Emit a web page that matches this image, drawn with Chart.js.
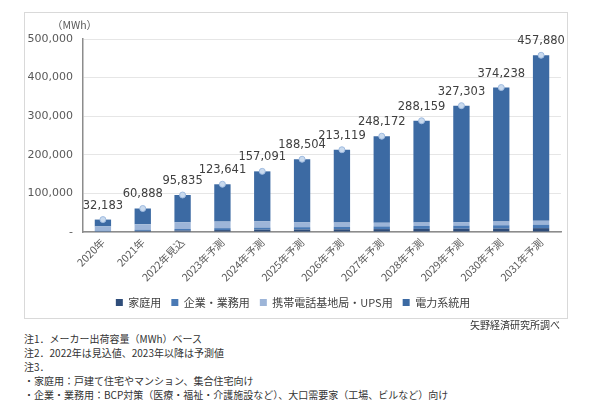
<!DOCTYPE html>
<html>
<head>
<meta charset="utf-8">
<script src="https://cdn.jsdelivr.net/npm/chart.js@4"></script>
<style>
  body { margin: 0; background: #fff; font-family: "Noto Sans CJK JP", "Noto Sans", sans-serif; }
  #frame { position: absolute; left: 24px; top: 12px; width: 542px; height: 305px; border: 1px solid #d9d9d9; }
  #unit { position: absolute; left: 52px; top: 17px; font-size: 10.5px; color: #595959; }
  .note { position: absolute; left: 24px; font-size: 10px; color: #333; white-space: nowrap; }
  #src { position: absolute; right: 40px; top: 317px; font-size: 10px; color: #333; }
</style>
</head>
<body>
<div id="frame"><canvas id="chart" width="542" height="305"></canvas></div>
<div id="unit">（MWh）</div>
<div id="src">矢野経済研究所調べ</div>
<div class="note" style="top:331px">注1．メーカー出荷容量（MWh）ベース</div>
<div class="note" style="top:345px">注2．2022年は見込値、2023年以降は予測値</div>
<div class="note" style="top:359px">注3．</div>
<div class="note" style="top:373px">・家庭用：戸建て住宅やマンション、集合住宅向け</div>
<div class="note" style="top:387px">・企業・業務用：BCP対策（医療・福祉・介護施設など）、大口需要家（工場、ビルなど）向け</div>
<script>
// 年（カテゴリ）
const years = ['2020年', '2021年', '2022年見込', '2023年予測', '2024年予測', '2025年予測',
  '2026年予測', '2027年予測', '2028年予測', '2029年予測', '2030年予測', '2031年予測'];

// 用途別（MWh）※画像からの読み取り値
const katei = [1500, 3000, 4000, 5000, 6000, 6500, 7000, 7500, 8000, 8500, 9000, 10000];
const kigyo = [2000, 3000, 4000, 5000, 5500, 6000, 6500, 7000, 7500, 8000, 8500, 9000];
const keitai = [11000, 14000, 17000, 17000, 16000, 13000, 11000, 9500, 9000, 9000, 9500, 10000];
const keito = [17683, 40888, 70835, 96641, 129591, 163004, 188619, 224172, 263659, 301803, 347238, 428880];

// 合計
const totals = [32183, 60888, 95835, 123641, 157091, 188504, 213119, 248172, 288159, 327303, 374238, 457880];

const yTicks = [0, 100000, 200000, 300000, 400000, 500000];

// 合計ラベルを棒の上に描く
const totalLabels = {
  id: 'totalLabels',
  afterDatasetsDraw(chart) {
    const ctx = chart.ctx;
    const meta = chart.getDatasetMeta(4);
    ctx.save();
    ctx.font = '11.5px "DejaVu Sans", sans-serif';
    ctx.fillStyle = '#404040';
    ctx.textAlign = 'center';
    ctx.textBaseline = 'middle';
    meta.data.forEach((pt, i) => {
      ctx.fillText(totals[i].toLocaleString('en-US'), pt.x, pt.y - 14);
    });
    ctx.restore();
  }
};

const ctx = document.getElementById('chart').getContext('2d');
new Chart(ctx, {
  type: 'bar',
  data: {
    labels: years,
    datasets: [
      { label: '家庭用', data: katei, backgroundColor: '#2f4d7a', stack: 's', order: 2 },
      { label: '企業・業務用', data: kigyo, backgroundColor: '#4a7ab5', stack: 's', order: 2 },
      { label: '携帯電話基地局・UPS用', data: keitai, backgroundColor: '#9db5d8', stack: 's', order: 2 },
      { label: '電力系統用', data: keito, backgroundColor: '#3c6aa3', stack: 's', order: 2 },
      { type: 'line', label: '合計', data: totals, showLine: false, pointRadius: 3,
        pointBackgroundColor: '#c9daee', pointBorderColor: '#9fbbe0', pointBorderWidth: 1, order: 1 }
    ]
  },
  options: {
    responsive: false,
    animation: false,
    layout: { padding: { top: 26, right: 6, bottom: 0, left: 0 } },
    datasets: { bar: { barPercentage: 0.41, categoryPercentage: 1 } },
    plugins: {
      tooltip: { enabled: false },
      legend: {
        position: 'bottom',
        labels: {
          filter: item => item.datasetIndex < 4,
          boxWidth: 7, boxHeight: 7, padding: 10,
          color: '#404040',
          font: { size: 11, family: '"Noto Sans CJK JP", sans-serif' }
        }
      }
    },
    scales: {
      x: {
        stacked: true,
        grid: { display: false, drawTicks: false },
        border: { color: '#8c8c8c', width: 1.5 },
        ticks: {
          minRotation: 45, maxRotation: 45, padding: 4,
          color: '#595959',
          font: { size: 10.5, family: '"Noto Sans CJK JP", sans-serif' }
        },
        afterFit: s => { s.height = 55; }
      },
      y: {
        stacked: true,
        min: 0, max: 500000,
        afterBuildTicks: s => { s.ticks = yTicks.map(v => ({ value: v })); },
        grid: { color: '#e6e6e6', drawTicks: false },
        border: { color: '#8c8c8c', width: 1.5 },
        ticks: {
          padding: 10,
          color: '#595959',
          font: { size: 11, family: '"DejaVu Sans", sans-serif' },
          callback: v => v === 0 ? '-' : v.toLocaleString('en-US')
        },
        afterFit: s => { s.width = 58; }
      }
    }
  },
  plugins: [totalLabels]
});
</script>
</body>
</html>
